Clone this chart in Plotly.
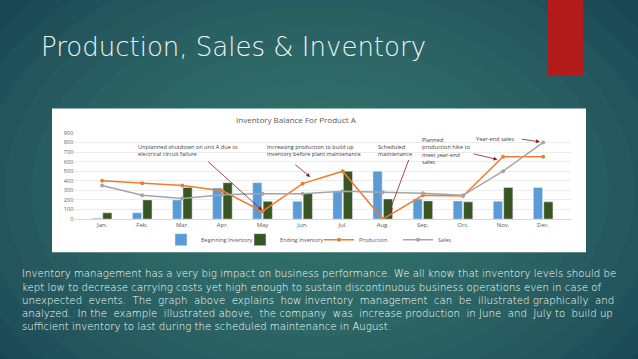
import plotly.graph_objects as go

months = ["Jan.", "Feb.", "Mar.", "Apr.", "May", "Jun.", "Jul.", "Aug.", "Sep.", "Oct.", "Nov.", "Dec."]
beginning_inventory = [10, 65, 200, 325, 380, 185, 285, 500, 210, 190, 185, 330]
ending_inventory = [65, 200, 330, 380, 185, 270, 500, 210, 190, 180, 330, 180]
production = [400, 375, 350, 295, 80, 370, 500, 0, 248, 240, 650, 650]
sales = [350, 250, 215, 255, 265, 265, 290, 280, 270, 248, 500, 800]
y_ticks = [0, 100, 200, 300, 400, 500, 600, 700, 800, 900]

slide_title = "Production, Sales & Inventory"
chart_title = "Inventory Balance For Product A"
body_lines = [
    "Inventory management has a very big impact on business performance. We all know that inventory levels should be",
    "kept low to decrease carrying costs yet high enough to sustain discontinuous business operations even in case of",
    "unexpected  events.  The  graph  above  explains  how inventory  management  can  be  illustrated graphically  and",
    "analyzed.  In the  example  illustrated above,  the company  was  increase production  in June  and  July to  build up",
    "sufficient inventory to last during the scheduled maintenance in August.",
]

W, H = 638, 359


def px(x):
    return x / W


def py(y):
    return (H - y) / H


fig = go.Figure()
fig.add_trace(go.Bar(name="Beginning Inventory", x=months, y=beginning_inventory,
                     marker_color="#5b9bd5"))
fig.add_trace(go.Bar(name="Ending Inventory", x=months, y=ending_inventory,
                     marker_color="#375623"))
fig.add_trace(go.Scatter(name="Production", x=months, y=production, mode="lines+markers",
                         line=dict(color="#ed7d31", width=1.5),
                         marker=dict(color="#ed7d31", size=4)))
fig.add_trace(go.Scatter(name="Sales", x=months, y=sales, mode="lines+markers",
                         line=dict(color="#a5a5a5", width=1.5),
                         marker=dict(color="#a5a5a5", size=4)))

shapes = []
# background radial glow
n = 16
for i in range(n):
    f = 1 - i / n
    rx, ry = 420 * f, 300 * f
    cx, cy = 320, 190
    shapes.append(dict(type="circle", xref="paper", yref="paper", layer="below",
                       x0=px(cx - rx), x1=px(cx + rx), y0=py(cy + ry), y1=py(cy - ry),
                       fillcolor="#3c7b71", opacity=0.12, line=dict(width=0)))
# red accent bar
shapes.append(dict(type="rect", xref="paper", yref="paper", layer="below",
                   x0=px(548), x1=px(583), y0=py(73), y1=py(-6),
                   fillcolor="#b31b1b", line=dict(width=0)))
# white chart panel
shapes.append(dict(type="rect", xref="paper", yref="paper", layer="below",
                   x0=px(52), x1=px(586), y0=py(254), y1=py(107),
                   fillcolor="white", line=dict(width=0)))

annotations = []
annotations.append(dict(text=slide_title, xref="paper", yref="paper", x=px(39), y=py(43.5),
                        xanchor="left", yanchor="middle", showarrow=False,
                        font=dict(family="DejaVu Sans", size=26, color="#eef3f2", weight=200)))
annotations.append(dict(text=chart_title, xref="paper", yref="paper", x=px(296), y=py(118),
                        xanchor="center", yanchor="middle", showarrow=False,
                        font=dict(family="Open Sans", size=8, color="#595959")))
for i, line in enumerate(body_lines):
    annotations.append(dict(text=line, xref="paper", yref="paper", x=px(20), y=py(276 + 13.5 * i),
                            xanchor="left", yanchor="middle", showarrow=False,
                            font=dict(family="DejaVu Sans", size=10.2, color="white", weight=200)))

note_font = dict(family="Open Sans", size=5.6, color="#404040")
notes = [
    ("Unplanned shutdown on unit A due to<br>electrical circuit failure", 0.85, 714),
    ("Increasing production to build up<br>inventory before plant maintenance", 4.06, 714),
    ("Scheduled<br>maintenance", 6.84, 714),
    ("Planned<br>production hike to<br>meet year-end<br>sales", 7.92, 714),
    ("Year-end sales", 9.28, 837),
]
for t, x, y in notes:
    annotations.append(dict(text=t, x=x, y=y, xref="x", yref="y", xanchor="left", yanchor="middle",
                            align="left", showarrow=False, font=note_font))
arrows = [
    (3.99, 92, 2.61, 612),
    (5.19, 439, 4.78, 582),
    (7.17, 82, 7.66, 633),
    (9.86, 622, 9.23, 684),
    (10.92, 806, 10.43, 837),
]
for x, y, ax, ay in arrows:
    annotations.append(dict(text="", x=x, y=y, ax=ax, ay=ay, xref="x", yref="y",
                            axref="x", ayref="y", showarrow=True, arrowhead=2,
                            arrowsize=1, arrowwidth=0.8, arrowcolor="#8b1e1e"))

fig.update_layout(
    width=W, height=H,
    margin=dict(l=0, r=0, t=0, b=0),
    paper_bgcolor="#163e4e",
    plot_bgcolor="white",
    barmode="group", bargap=0.48, bargroupgap=0.12,
    shapes=shapes, annotations=annotations,
    showlegend=True,
    legend=dict(orientation="h", x=0.5, xanchor="center", y=py(241), yanchor="middle",
                font=dict(family="Open Sans", size=5.5, color="#595959"),
                bgcolor="rgba(0,0,0,0)", itemwidth=30, tracegroupgap=0,
                entrywidth=34, entrywidthmode="pixels"),
    xaxis=dict(domain=[px(74.3), px(571)], showgrid=False, showline=True, linecolor="#d9d9d9",
               linewidth=0.8, ticks="", tickfont=dict(family="Open Sans", size=6, color="#595959")),
    yaxis=dict(domain=[py(220), py(131.8)], range=[0, 900], tickvals=y_ticks,
               showgrid=True, gridcolor="#ececec", gridwidth=0.6, zeroline=False,
               showline=False, ticks="", tickfont=dict(family="Open Sans", size=5.5, color="#595959")),
)

fig.write_html("out.html", config={"displayModeBar": False},
               post_script="document.body.style.margin='0';document.body.style.overflow='hidden';")
